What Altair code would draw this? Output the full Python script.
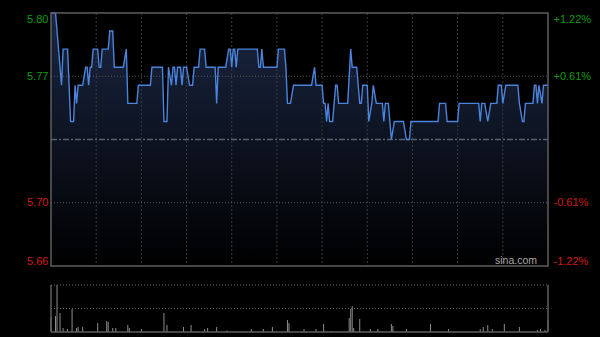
import altair as alt
import pandas as pd

# ---- intraday price (minute index from 9:30, price) ----
times = [0, 3, 7, 8, 11, 12, 13, 15, 16, 17, 18, 21, 23, 24, 25, 26, 27, 28, 31, 32, 33, 34, 38, 39, 41, 42, 48, 50, 51, 57, 58, 66,
         67, 74, 75, 77, 78, 80, 81, 82, 83, 84, 86, 87, 88, 90, 92, 94, 95, 98, 99, 102, 103, 109, 110, 111, 116, 118, 119, 120, 121, 122, 123, 124, 132,
         137, 138, 139, 140, 141, 150, 151, 155, 156, 157, 159, 161, 173, 175, 176, 180, 181, 182, 183, 184, 185, 187, 189, 190, 191, 197, 199,
         200, 203, 205, 206, 207, 210, 211, 213, 214, 216, 220, 221, 222, 224, 226, 228, 234, 236, 238, 239, 257, 258, 262, 263, 270,
         271, 284, 285, 286, 288, 290, 292, 296, 297, 299, 300, 302, 310, 311, 313, 314, 315, 320, 321, 322, 323, 324, 326, 327, 330]
prices = [5.80, 5.80, 5.76, 5.78, 5.78, 5.76, 5.74, 5.74, 5.76, 5.75, 5.76, 5.76, 5.77, 5.77, 5.76, 5.77, 5.77, 5.78, 5.78, 5.77, 5.77, 5.78, 5.78, 5.79, 5.79, 5.77, 5.77, 5.78, 5.75, 5.75, 5.76, 5.76,
          5.77, 5.77, 5.74, 5.74, 5.77, 5.76, 5.77, 5.77, 5.76, 5.77, 5.77, 5.76, 5.77, 5.77, 5.76, 5.76, 5.77, 5.77, 5.78, 5.78, 5.77, 5.77, 5.75, 5.77, 5.77, 5.78, 5.78, 5.77, 5.78, 5.78, 5.77, 5.78, 5.78,
          5.78, 5.77, 5.77, 5.78, 5.77, 5.77, 5.78, 5.78, 5.77, 5.75, 5.75, 5.76, 5.76, 5.77, 5.76, 5.76, 5.75, 5.75, 5.74, 5.75, 5.74, 5.74, 5.76, 5.76, 5.75, 5.75, 5.78,
          5.77, 5.77, 5.75, 5.75, 5.76, 5.76, 5.74, 5.75, 5.76, 5.75, 5.75, 5.74, 5.75, 5.75, 5.73, 5.74, 5.74, 5.73, 5.73, 5.74, 5.74, 5.75, 5.75, 5.74, 5.74,
          5.75, 5.75, 5.74, 5.75, 5.75, 5.74, 5.75, 5.75, 5.76, 5.76, 5.75, 5.76, 5.76, 5.75, 5.74, 5.74, 5.75, 5.75, 5.76, 5.76, 5.75, 5.76, 5.75, 5.76, 5.76]

# ---- volume (minute index, relative volume) ----
vol_times = [0, 3, 4, 6, 8, 11, 14, 17, 18, 21, 31, 37, 38, 41, 43, 51, 52, 60, 75, 77, 88, 93, 102, 104, 110, 117, 133, 141, 147, 157, 158,
             168, 176, 181, 186, 198, 199, 200, 201, 205, 212, 217, 226, 227, 236, 252, 264, 285, 287, 290, 293, 301, 311, 323, 325, 328, 330]
vol_values = [15, 16, 47, 19, 4, 3, 23, 4, 5, 5, 9, 11, 10, 4, 4, 7, 4, 3, 19, 7, 5, 7, 3, 4, 5, 1.5, 3, 3, 5, 12, 9,
              3, 3, 8, 1, 14, 23, 26, 4, 13, 3, 3, 8, 6, 3, 8, 3, 3, 5, 7, 3, 8, 5, 2, 3, 2, 12]

prev_close = 5.73
price_min, price_max = 5.66, 5.80
grid_times = [30, 60, 90, 120, 150, 180, 210, 240, 270, 300]
grid_prices = [5.765, 5.695]
tick_prices = [5.80, 5.765, 5.695, 5.66]
price_labels = ["5.80", "5.77", "5.70", "5.66"]
pct_labels = ["+1.22%", "+0.61%", "-0.61%", "-1.22%"]
vol_max = 47

FONT = "Liberation Sans"
XS = alt.Scale(domain=[0, 330], range=[0, 497], nice=False, zero=False)
PS = alt.Scale(domain=[price_min, price_max], range=[253, 0], nice=False, zero=False)
VS = alt.Scale(domain=[0, vol_max], range=[319, 272], nice=False, zero=False)


def label_expr(vals, labels):
    expr = "''"
    for v, l in reversed(list(zip(vals, labels))):
        expr = f"abs(datum.value - {v}) < 0.0005 ? '{l}' : ({expr})"
    return expr


label_color = {"condition": {"test": f"datum.value > {prev_close}", "value": "#0b9b0b"}, "value": "#d01818"}

df = pd.DataFrame({"t": times, "price": prices})
vdf = pd.DataFrame({"t": vol_times, "v": vol_values})
one = alt.Data(values=[{"k": 1}])


def xd(v):
    return alt.XDatum(v, type="quantitative", scale=XS, axis=None)


def yd(v, scale=PS):
    return alt.YDatum(v, type="quantitative", scale=scale, axis=None)


area = alt.Chart(df).mark_area(
    color=alt.Gradient(gradient="linear", x1=0, x2=0, y1=0, y2=1,
                       stops=[alt.GradientStop(color="#1a2642", offset=0),
                              alt.GradientStop(color="#000000", offset=1)])
).encode(
    x=alt.X("t:Q", scale=XS, axis=None),
    y=alt.Y("price:Q", scale=PS, axis=None),
    y2=alt.Y2Datum(price_min),
)

vgrid = alt.Chart(pd.DataFrame({"t": grid_times})).mark_rule(
    color="#3c3c3c", strokeDash=[2, 2], strokeWidth=1
).encode(x=alt.X("t:Q", scale=XS, axis=None), y=yd(price_max), y2=alt.Y2Datum(price_min))

hgrid = alt.Chart(pd.DataFrame({"p": grid_prices})).mark_rule(
    color="#5a5a5a", strokeDash=[1, 2], strokeWidth=1
).encode(y=alt.Y("p:Q", scale=PS, axis=None), x=xd(0), x2=alt.X2Datum(330))

mid = alt.Chart(pd.DataFrame({"p": [prev_close]})).mark_rule(
    color="#56606e", strokeDash=[6, 2, 2, 2], strokeWidth=1.5
).encode(y=alt.Y("p:Q", scale=PS, axis=None), x=xd(0), x2=alt.X2Datum(330))

line = alt.Chart(df).mark_line(color="#4a84dc", strokeWidth=1.4).encode(
    x=alt.X("t:Q", scale=XS, axis=None),
    y=alt.Y("price:Q", scale=PS, axis=alt.Axis(
        orient="left", values=tick_prices, labelExpr=label_expr(tick_prices, price_labels),
        labelColor=label_color, labelFlush=True, labelFont=FONT, labelFontSize=11,
        labelPadding=3, ticks=False, domain=False, grid=False, title=None)),
)

frame = alt.Chart(one).mark_rect(filled=False, stroke="#5e5e5e", strokeWidth=1.5).encode(
    x=xd(0), x2=alt.X2Datum(330), y=yd(price_max), y2=alt.Y2Datum(price_min))

pct = alt.Chart(pd.DataFrame({"p": tick_prices})).mark_point(opacity=0).encode(
    y=alt.Y("p:Q", scale=PS, axis=alt.Axis(
        orient="right", values=tick_prices, labelExpr=label_expr(tick_prices, pct_labels),
        labelColor=label_color, labelFlush=True, labelFont=FONT, labelFontSize=11,
        labelPadding=5, ticks=False, domain=False, grid=False, title=None)),
)

vbars = alt.Chart(vdf).mark_rule(color="#8c8c8c", strokeWidth=1).encode(
    x=alt.X("t:Q", scale=XS, axis=None),
    y=alt.Y("v:Q", scale=VS, axis=None),
    y2=alt.Y2Datum(0),
)

vdots = alt.Chart(pd.DataFrame({"v": [vol_max, vol_max / 2]})).mark_rule(
    color="#6a6a6a", strokeDash=[1, 2], strokeWidth=1
).encode(y=alt.Y("v:Q", scale=VS, axis=None), x=xd(0), x2=alt.X2Datum(330))

vsides = alt.Chart(pd.DataFrame({"t": [0, 330]})).mark_rule(color="#5e5e5e", strokeWidth=1.5).encode(
    x=alt.X("t:Q", scale=XS, axis=None), y=yd(vol_max, VS), y2=alt.Y2Datum(0))

vbottom = alt.Chart(one).mark_rule(color="#5e5e5e", strokeWidth=1.5).encode(
    y=yd(0, VS), x=xd(0), x2=alt.X2Datum(330))

wm = alt.Chart(one).mark_text(
    text="sina.com", font=FONT, fontSize=10.5, color="#a8a8a8", align="right", baseline="middle"
).encode(x=alt.value(486), y=alt.value(248))

chart = alt.layer(
    area, vgrid, hgrid, mid, line, frame, pct, vbars, vdots, vsides, vbottom, wm
).resolve_scale(y="independent").resolve_axis(y="independent").properties(
    width=497, height=319,
    padding={"left": 51, "top": 13, "right": 52, "bottom": 5},
    autosize=alt.AutoSizeParams(type="none"),
    background="#000000",
).configure_view(strokeWidth=0)

chart.save("out.html", embed_options={"renderer": "svg", "actions": False})
